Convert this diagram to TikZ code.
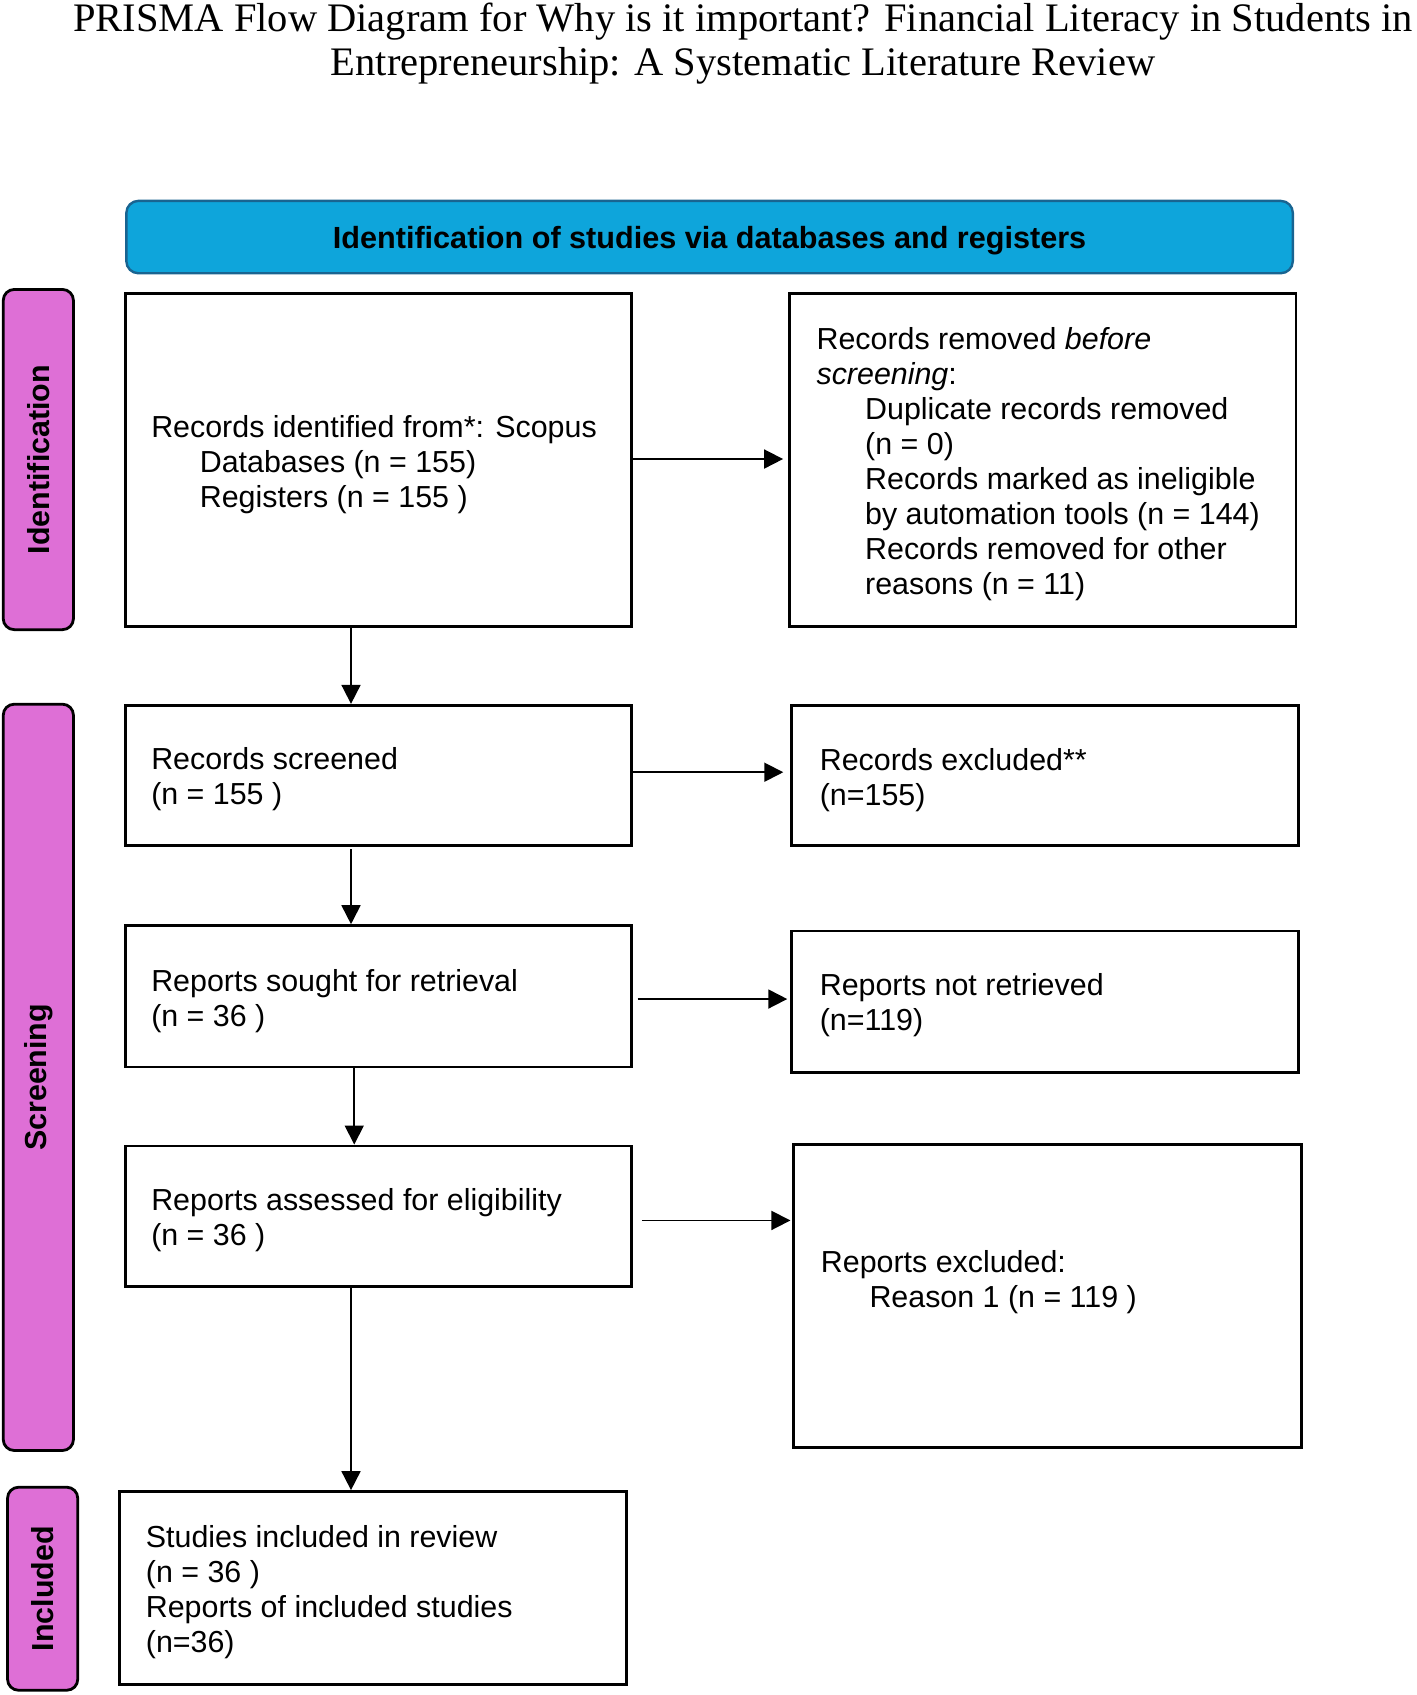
\documentclass[tikz,border=0pt]{standalone}
\usepackage{fontspec}
\setmainfont{Liberation Sans}
\newfontfamily\titlefont{Liberation Serif}
\usetikzlibrary{arrows.meta,calc}
\definecolor{pinkfill}{RGB}{222,111,214}
\definecolor{hdrblue}{RGB}{14,165,219}
\definecolor{hdredge}{RGB}{25,100,145}
\newcommand\prismaind{\hspace*{24.3pt}}
\begin{document}
\begin{tikzpicture}[x=0.54pt,y=-0.54pt,
  box/.style={draw=black, line width=1.4pt, fill=white, inner sep=0pt},
  txt/.style={anchor=west, align=left, inner sep=0pt, font=\fontsize{15.2pt}{17.5pt}\selectfont},
  pill/.style={draw=black, line width=1.4pt, fill=pinkfill, rounded corners=5.5pt, minimum width=65*0.54pt, inner sep=0pt},
  sidelbl/.style={rotate=90, font=\fontsize{15.2pt}{17.5pt}\selectfont\bfseries, inner sep=0pt},
  arr/.style={line width=0.9pt, -{Triangle[length=9.5pt,width=9.5pt]}},
  title/.style={anchor=base, inner sep=0pt, font=\titlefont\fontsize{20.25pt}{22pt}\selectfont}]
\useasboundingbox (0,0) rectangle (1312,1569.4);

% title
\node[title] (title1) at (688,29) {PRISMA Flow Diagram for Why is it important? Financial Literacy in Students in};
\node[title] (title2) at (688,70) {Entrepreneurship: A Systematic Literature Review};

% header
\node[draw=hdredge, line width=1.2pt, fill=hdrblue, rounded corners=6pt,
      minimum width=1080*0.54pt, minimum height=67*0.54pt, inner sep=0pt] (hdr) at (657,219.5) {};
\node[inner sep=0pt, font=\fontsize{15.3pt}{17.5pt}\selectfont\bfseries] (hdrtxt) at ($(hdr.center)+(0,3)$)
      {Identification of studies via databases and registers};

% side pills
\node[pill, minimum height=315*0.54pt] (pid) at (35.5,425.5) {};
\node[sidelbl] (lid) at (pid.center) {Identification};
\node[pill, minimum height=691*0.54pt] (psc) at (35.5,997.5) {};
\node[sidelbl] (lsc) at (psc.center) {Screening};
\node[pill, minimum height=188*0.54pt] (pin) at (39.5,1471) {};
\node[sidelbl] (lin) at (pin.center) {Included};

% boxes
\node[box, minimum width=469*0.54pt, minimum height=308*0.54pt] (B1) at (350.5,426) {};
\node[box, minimum width=469*0.54pt, minimum height=308*0.54pt] (B2) at (965.5,426) {};
\node[box, minimum width=469*0.54pt, minimum height=130*0.54pt] (B3) at (350.5,718) {};
\node[box, minimum width=469*0.54pt, minimum height=130*0.54pt] (B4) at (967.5,718) {};
\node[box, minimum width=469*0.54pt, minimum height=131*0.54pt] (B5) at (350.5,922.5) {};
\node[box, minimum width=469*0.54pt, minimum height=131*0.54pt] (B6) at (967.5,927.5) {};
\node[box, minimum width=469*0.54pt, minimum height=130*0.54pt] (B7) at (350.5,1126) {};
\node[box, minimum width=470*0.54pt, minimum height=280*0.54pt] (B8) at (970,1200) {};
\node[box, minimum width=469*0.54pt, minimum height=179*0.54pt] (B9) at (345.5,1470.5) {};

% texts
\node[txt] (T1) at ($(B1.west)+(25,4)$) {Records identified from*: Scopus\\
\prismaind Databases (n = 155)\\
\prismaind Registers (n = 155 )};
\node[txt] (T2) at ($(B2.west)+(26,4)$) {Records removed \textit{before}\\
\textit{screening}:\\
\prismaind Duplicate records removed\\
\prismaind (n = 0)\\
\prismaind Records marked as ineligible\\
\prismaind by automation tools (n = 144)\\
\prismaind Records removed for other\\
\prismaind reasons (n = 11)};
\node[txt] (T3) at ($(B3.west)+(25,3.5)$) {Records screened\\(n = 155 )};
\node[txt] (T4) at ($(B4.west)+(27,4)$) {Records excluded**\\(n=155)};
\node[txt] (T5) at ($(B5.west)+(25,4)$) {Reports sought for retrieval\\(n = 36 )};
\node[txt] (T6) at ($(B6.west)+(27,3.5)$) {Reports not retrieved\\(n=119)};
\node[txt] (T7) at ($(B7.west)+(25,3.5)$) {Reports assessed for eligibility\\(n = 36 )};
\node[txt] (T8) at ($(B8.west)+(26,-12.5)$) {Reports excluded:\\
\prismaind Reason 1 (n = 119 )};
\node[txt] (T9) at ($(B9.west)+(25,4)$) {Studies included in review\\(n = 36 )\\Reports of included studies\\(n=36)};

% connectors
\coordinate (a12) at ($(B1.east)+(0,-1)$);
\draw[arr, shorten >=2.5pt] (a12) -- (a12 -| B2.west);
\coordinate (a13) at ($(B1.south)+(-25.5,0)$);
\draw[arr] (a13) -- (a13 |- B3.north);
\coordinate (a34) at ($(B3.east)+(0,-3)$);
\draw[arr, shorten >=3.5pt] (a34) -- (a34 -| B4.west);
\coordinate (a35) at ($(B3.south)+(-25.5,2)$);
\draw[arr] (a35) -- (a35 |- B5.north);
\coordinate (a56) at ($(B5.east)+(4,2.5)$);
\draw[arr, shorten >=1.5pt] (a56) -- (a56 -| B6.west);
\coordinate (a57) at ($(B5.south)+(-22.5,0)$);
\draw[arr] (a57) -- (a57 |- B7.north);
\coordinate (a78) at ($(B7.east)+(8,4)$);
\draw[arr, shorten >=1pt] (a78) -- (a78 -| B8.west);
\coordinate (a79) at ($(B7.south)+(-25.5,0)$);
\draw[arr] (a79) -- (a79 |- B9.north);
\end{tikzpicture}
\end{document}
